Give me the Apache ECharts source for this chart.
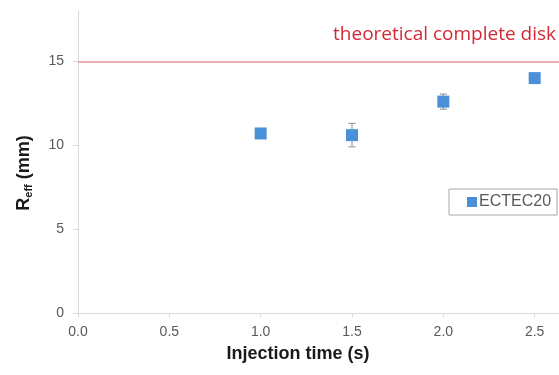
<!DOCTYPE html>
<html>
<head>
<meta charset="utf-8">
<script src="https://cdn.jsdelivr.net/npm/echarts@6/dist/echarts.min.js"></script>
<style>
  html, body { margin: 0; padding: 0; background: #fff; }
  #chart { width: 559px; height: 375px; }
</style>
</head>
<body>
<div id="chart"></div>
<script>
var injectionTime = [1.0, 1.5, 2.0, 2.5];
var rEff = [10.7, 10.6, 12.6, 14.0];
var rEffErr = [0, 0.7, 0.45, 0];
var diskRadius = 15;

var myChart = echarts.init(document.getElementById('chart'));

var points = injectionTime.map(function (t, i) { return [t, rEff[i]]; });
var errBars = injectionTime.map(function (t, i) {
  return [t, rEff[i] - rEffErr[i], rEff[i] + rEffErr[i]];
});

var option = {
  animation: false,
  textStyle: { fontFamily: 'Liberation Sans, Arial, sans-serif' },
  grid: { left: 78, top: 11, bottom: 62, right: -67, outerBoundsMode: 'none' },
  xAxis: {
    type: 'value',
    min: 0, max: 3, interval: 0.5,
    name: 'Injection time (s)',
    nameLocation: 'middle',
    nameGap: 32,
    nameTextStyle: { fontSize: 18, fontWeight: 'bold', color: '#1a1a1a', padding: [0, 108, 0, 0] },
    axisLine: { lineStyle: { color: '#d9d9d9' } },
    axisTick: { show: true, length: 4, lineStyle: { color: '#d9d9d9' } },
    axisLabel: {
      fontSize: 14, color: '#595959', margin: 12,
      formatter: function (v) { return v.toFixed(1); }
    },
    splitLine: { show: false }
  },
  yAxis: {
    type: 'value',
    min: 0, max: 18, interval: 5,
    name: '{b|R}{s|eff}{b| (mm)}',
    nameLocation: 'middle',
    nameGap: 44,
    nameTextStyle: {
      padding: [0, 22, 0, 0],
      rich: {
        b: { fontSize: 18, fontWeight: 'bold', color: '#1a1a1a', fontFamily: 'Liberation Sans' },
        s: { fontSize: 11, fontWeight: 'bold', color: '#1a1a1a', fontFamily: 'Liberation Sans', padding: [9, 0, 0, 0] }
      }
    },
    axisLine: { show: true, lineStyle: { color: '#d9d9d9' } },
    axisTick: { show: true, length: 5, lineStyle: { color: '#d9d9d9' } },
    axisLabel: {
      fontSize: 14, color: '#595959', margin: 14, showMaxLabel: false,
      formatter: function (v) { return v % 5 === 0 ? String(v) : ''; }
    },
    splitLine: { show: false }
  },
  legend: {
    data: [{ name: 'ECTEC20', icon: 'rect' }],
    left: 449, top: 189,
    itemWidth: 10, itemHeight: 10, itemGap: 2,
    padding: [5, 6, 5, 18],
    borderColor: '#a6a6a6', borderWidth: 1,
    backgroundColor: '#fff',
    textStyle: { fontSize: 16, color: '#595959', padding: [0, 0, 0, -3] }
  },
  graphic: [{
    type: 'text',
    right: 3, top: 25,
    style: {
      text: 'theoretical complete disk',
      fill: '#d42a36',
      font: '19px "Open Sans", sans-serif'
    }
  }],
  series: [
    {
      name: 'diskLine',
      type: 'line',
      data: [],
      markLine: {
        silent: true,
        symbol: 'none',
        label: { show: false },
        lineStyle: { color: '#e39494', width: 1.5, type: 'solid' },
        data: [{ yAxis: diskRadius }]
      }
    },
    {
      name: 'errors',
      type: 'custom',
      data: errBars,
      z: 3,
      renderItem: function (params, api) {
        var x = api.value(0);
        if (api.value(2) - api.value(1) <= 0) return null;
        var lo = api.coord([x, api.value(1)]);
        var hi = api.coord([x, api.value(2)]);
        var cap = 3.5;
        var st = { stroke: '#8c8c8c', lineWidth: 1 };
        return {
          type: 'group',
          children: [
            { type: 'line', shape: { x1: lo[0], y1: lo[1], x2: hi[0], y2: hi[1] }, style: st },
            { type: 'line', shape: { x1: lo[0] - cap, y1: lo[1], x2: lo[0] + cap, y2: lo[1] }, style: st },
            { type: 'line', shape: { x1: hi[0] - cap, y1: hi[1], x2: hi[0] + cap, y2: hi[1] }, style: st }
          ]
        };
      }
    },
    {
      name: 'ECTEC20',
      type: 'scatter',
      symbol: 'rect',
      symbolSize: 12,
      z: 4,
      itemStyle: { color: '#4a90d9', opacity: 1 },
      data: points
    }
  ]
};

myChart.setOption(option);
</script>
</body>
</html>
